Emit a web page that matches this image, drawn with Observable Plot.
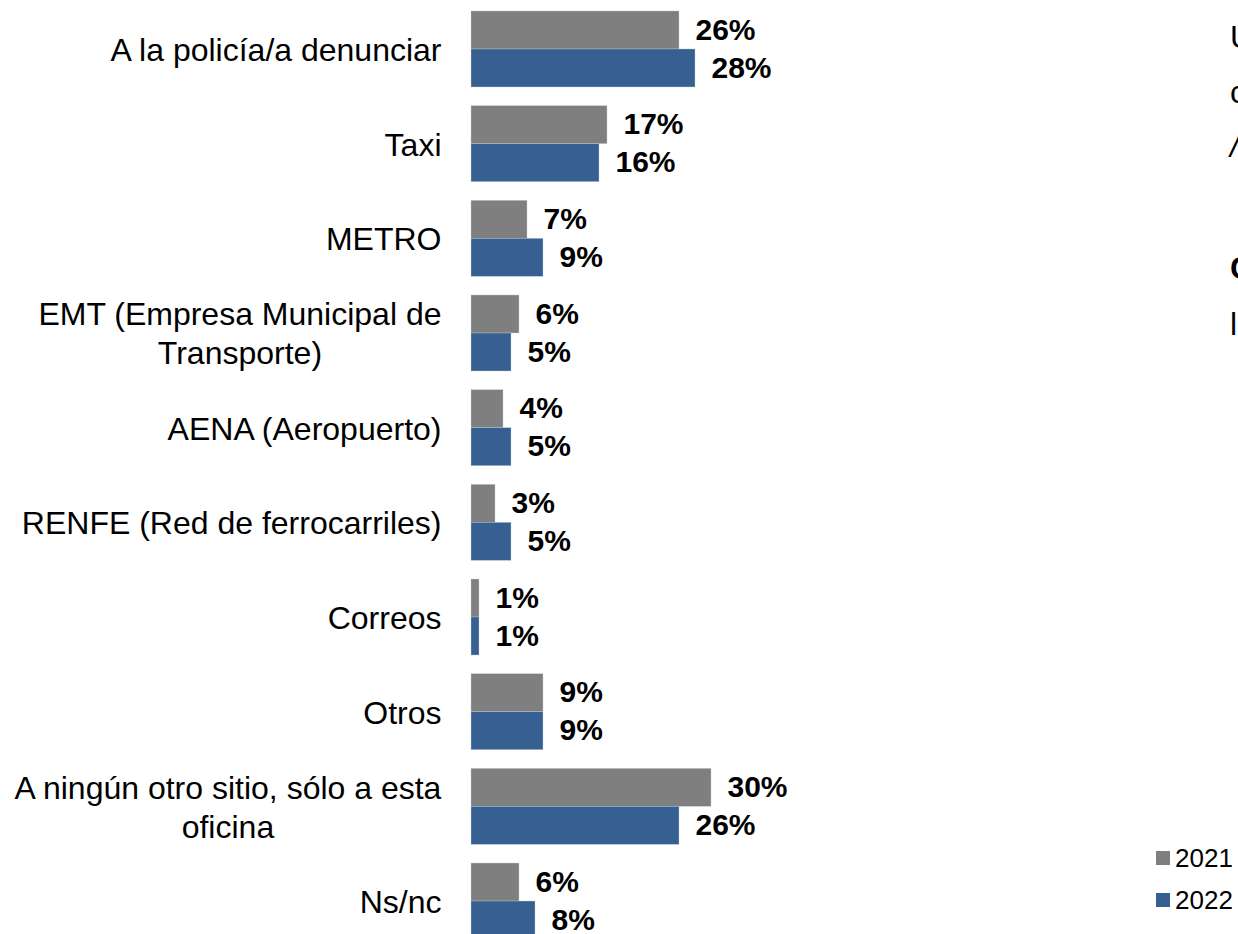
<!DOCTYPE html>
<html>
<head>
<meta charset="utf-8">
<script src="https://cdn.jsdelivr.net/npm/d3@7"></script>
<script src="https://cdn.jsdelivr.net/npm/@observablehq/plot@0.6"></script>
<style>
  html, body { margin: 0; padding: 0; background: #fff; overflow: hidden; }
  #wrap { position: relative; width: 1238px; height: 934px; overflow: hidden; font-family: "Liberation Sans", Arial, sans-serif; }
  #chart { position: absolute; left: 0; top: 0; }
  #legend { position: absolute; left: 1156px; top: 837px; font-size: 26px; color: #000; }
  #legend .row { display: flex; align-items: center; height: 42px; }
  #legend .sw { width: 14px; height: 14px; margin-right: 5px; }
  .frag { position: absolute; left: 1230px; font-size: 32px; line-height: 32px; color: #000; white-space: nowrap; }
</style>
</head>
<body>
<div id="wrap">
  <div id="chart"></div>
  <div id="legend"></div>
</div>
<script>
const categories = [
  "A la policía/a denunciar",
  "Taxi",
  "METRO",
  "EMT (Empresa Municipal de Transporte)",
  "AENA (Aeropuerto)",
  "RENFE (Red de ferrocarriles)",
  "Correos",
  "Otros",
  "A ningún otro sitio, sólo a esta oficina",
  "Ns/nc"
];
const categoryLabels = [
  "A la policía/a denunciar",
  "Taxi",
  "METRO",
  "EMT (Empresa Municipal de\nTransporte)",
  "AENA (Aeropuerto)",
  "RENFE (Red de ferrocarriles)",
  "Correos",
  "Otros",
  "A ningún otro sitio, sólo a esta\noficina",
  "Ns/nc"
];
const years = ["2021", "2022"];
const values2021 = [26, 17, 7, 6, 4, 3, 1, 9, 30, 6];
const values2022 = [28, 16, 9, 5, 5, 5, 1, 9, 26, 8];
const colors = ["#7f7f7f", "#376092"];

// Cut-off text box at the right edge of the original slide
const fragments = [
  {text: "U", top: 21, style: ""},
  {text: "c", top: 76, style: ""},
  {text: "/", top: 130, style: "font-style: italic;"},
  {text: "C", top: 252, style: "font-weight: bold;"},
  {text: "l", top: 308, style: ""}
];

const data = [];
categories.forEach((c, i) => {
  data.push({category: c, year: years[0], value: values2021[i]});
  data.push({category: c, year: years[1], value: values2022[i]});
});
const labelData = categories.map((c, i) => ({category: c, label: categoryLabels[i]}));

const chart = Plot.plot({
  width: 1238,
  height: 949,
  marginLeft: 471,
  marginRight: 447,
  marginTop: 1.5,
  marginBottom: 0.5,
  style: {fontFamily: '"Liberation Sans", Arial, sans-serif', background: "#fff"},
  x: {domain: [0, 40], axis: null},
  y: {domain: years, axis: null, padding: 0, round: false},
  fy: {domain: categories, axis: null, paddingInner: 0.197, paddingOuter: 0.1, round: false},
  color: {domain: years, range: colors},
  marks: [
    Plot.barX(data, {x: "value", y: "year", fy: "category", fill: "year", stroke: "#c8d0da", strokeWidth: 0.6, strokeOpacity: 0.6}),
    Plot.text(data, {
      x: "value", y: "year", fy: "category",
      text: d => d.value + "%",
      textAnchor: "start", dx: 16, dy: -0.5,
      fontSize: 30, fontWeight: "bold", fill: "#000"
    }),
    Plot.text(labelData, {
      fy: "category", text: "label",
      frameAnchor: "left", textAnchor: "end", dx: -30, dy: -1,
      fontSize: 32, lineHeight: 1.22, fill: "#000"
    })
  ]
});
document.getElementById("chart").appendChild(chart);

// Center the lines of multi-line labels within their right-aligned block
chart.querySelectorAll("text").forEach(function (el) {
  const tspans = el.querySelectorAll("tspan");
  if (tspans.length > 1) {
    const w = el.getBBox().width;
    const t = el.getAttribute("transform") || "";
    el.setAttribute("text-anchor", "middle");
    el.style.textAnchor = "middle";
    el.setAttribute("transform", t + ` translate(${-w / 2},0)`);
  }
});

// Legend
const legend = d3.select("#legend");
years.forEach((y, i) => {
  const row = legend.append("div").attr("class", "row");
  row.append("div").attr("class", "sw").style("background", colors[i]);
  row.append("span").text(y);
});

// Right-edge fragments
const wrap = d3.select("#wrap");
fragments.forEach(f => {
  wrap.append("div").attr("class", "frag").attr("style", `top:${f.top}px;${f.style}`).text(f.text);
});
</script>
</body>
</html>
